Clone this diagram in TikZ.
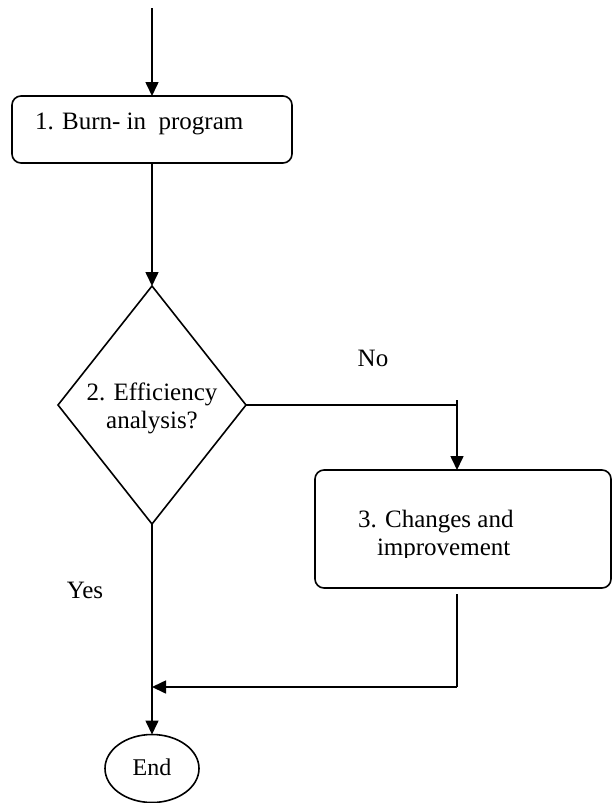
\documentclass[tikz,border=0pt]{standalone}
\usepackage{fontspec}
\setmainfont{Liberation Serif}
\usetikzlibrary{shapes.geometric,arrows.meta}
\begin{document}
\begin{tikzpicture}[x=1pt,y=-1pt,
  every node/.style={inner sep=0pt,outer sep=0pt},
  line/.style={line width=1.6pt},
  flow/.style={line, -{Triangle[length=14pt,width=13pt]}},
  stepbox/.style={draw,line width=1.6pt,rounded corners=9pt},
  decision/.style={draw,line width=1.6pt,diamond,minimum width=188pt,minimum height=238pt},
  terminal/.style={draw,line width=1.6pt,ellipse,minimum width=94pt,minimum height=68pt},
  txt/.style={font=\fontsize{25}{28}\selectfont},
  small/.style={font=\fontsize{24}{28}\selectfont}]
\useasboundingbox (0,0) rectangle (613,803);
\fill[white] (0,0) rectangle (613,803);

% start
\coordinate (s) at (152,8);

% step 1
\node[stepbox,minimum width=280pt,minimum height=67pt] (b1) at (152,129.5) {};
\node[txt,anchor=west] (t1) at (35,124) {1. Burn- in\ \ program};

% decision
\node[decision] (d) at (152,405) {};
\node[txt,align=center] (t2) at (152,408) {2. Efficiency\\analysis?};

% step 3
\node[stepbox,minimum width=296pt,minimum height=118pt] (b3) at (463,529) {};
\begin{scope}
  \clip (320,475) rectangle (600,557);
  \node[txt,align=left,anchor=north west] (t3) at (358,510) {3. Changes and\\\hspace{19pt}improvement};
\end{scope}

% end
\node[terminal] (e) at (152,768.5) {};
\node[small] (t4) at (152,767) {End};

% labels
\node[txt] (no) at (373,358) {No};
\node[txt] (yes) at (85,590) {Yes};

% junction points
\coordinate (j0) at (457,400);
\coordinate (k0) at (457,594);
\coordinate (k1) at (457,687);
\coordinate (m) at (152,687);

% connectors
\draw[flow] (s) -- (b1.north);
\draw[flow] (b1.south) -- (d.north);
\draw[line] (d.east) -- (d.east -| j0);
\draw[flow] (j0) -- (b3.north -| j0);
\draw[flow] (d.south) -- (e.north);
\draw[line] (k0) -- (k1);
\draw[flow] (k1) -- (m);
\end{tikzpicture}
\end{document}
